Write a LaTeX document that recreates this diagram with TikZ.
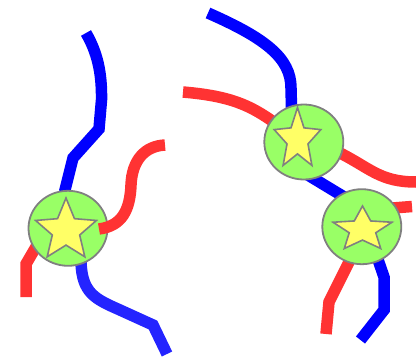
\documentclass[tikz,border=0pt]{standalone}
\usetikzlibrary{shapes.geometric}

\definecolor{wireblue}{HTML}{0000FF}
\definecolor{wirebluelight}{HTML}{2424FF}
\definecolor{wirered}{HTML}{FF3333}
\definecolor{hubgreen}{HTML}{99FF66}
\definecolor{staryellow}{HTML}{FFFF66}
\definecolor{rimgray}{HTML}{808080}

\tikzset{
  wire/.style={line width=11.5pt, line cap=butt, line join=miter},
  bluewire/.style={wire, draw=wireblue},
  bluewirelight/.style={wire, draw=wirebluelight},
  redwire/.style={wire, draw=wirered},
  hub/.style={ellipse, draw=rimgray, line width=1.8pt, fill=hubgreen,
              inner sep=0pt, minimum width=79pt, minimum height=75pt},
  starface/.style={draw=rimgray, line width=1.6pt, fill=staryellow, line join=miter}
}

% five-pointed star: centre, horizontal radius, vertical radius
\newcommand\hubstar[3]{%
  \begin{scope}[shift={(#1)}, xscale=#2, yscale=#3]
    \draw[starface] (-90:1) -- (-54:0.45) -- (-18:1) -- (18:0.45) -- (54:1)
      -- (90:0.45) -- (126:1) -- (162:0.45) -- (198:1) -- (234:0.45) -- cycle;
  \end{scope}}

\begin{document}
\begin{tikzpicture}[x=1pt, y=-1pt]
  \useasboundingbox (0,0) rectangle (416,362);

  % hub positions
  \coordinate (p1) at (68,228.3);
  \coordinate (p2) at (303.8,142);
  \coordinate (p3) at (361.8,226.7);

  % loose wire ends
  \coordinate (a0) at (86,33);
  \coordinate (b0) at (167,354);
  \coordinate (r0) at (26,297);
  \coordinate (d0) at (99,229);
  \coordinate (d1) at (165,145);
  \coordinate (e0) at (208,13);
  \coordinate (e1) at (360.5,340);
  \coordinate (f0) at (183,92);
  \coordinate (f1) at (416,182);
  \coordinate (g1) at (412,206.5);
  \coordinate (h1) at (326,334);

  % wires running underneath the hubs
  \draw[bluewire] (a0) .. controls (97,52) and (102,72) .. (101.5,100)
    -- (99,129) -- (73,158) -- (65,190) -- (p1);
  \draw[bluewirelight] (p1) -- (81,262) .. controls (82,293) and (95,299) .. (120,310)
    -- (153,325) -- (b0);
  \draw[redwire] (47,228) -- (26,264) -- (r0);

  \draw[bluewire] (e0) .. controls (265,38) and (291,58) .. (291,88)
    -- (293,166) -- (350,200.5) -- (374,248) -- (384,277) -- (384,310) -- (e1);
  \draw[redwire] (f0) .. controls (230,96) and (250,105) .. (275,123)
    -- (340,153) .. controls (370,168) and (380,182) .. (f1);
  \draw[redwire] (380,209) -- (g1);
  \draw[redwire] (360,240) -- (329,302) -- (h1);

  % hubs
  \node[hub] (c1) at (p1) {};
  \node[hub] (c2) at (p2) {};
  \node[hub] (c3) at (p3) {};

  \hubstar{66,230.5}{32}{32.5}
  \hubstar{297.5,139.5}{24.5}{32}
  \hubstar{362.5,229.5}{31}{23.5}

  % wire lying on top of the left hub
  \draw[redwire] (d0) .. controls (122,226) and (130,210) .. (131,185)
    .. controls (132,160) and (145,146) .. (d1);
\end{tikzpicture}
\end{document}
